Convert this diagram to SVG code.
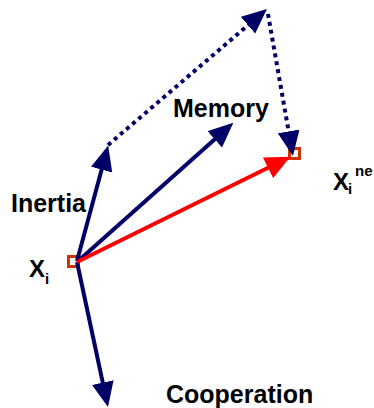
<svg xmlns="http://www.w3.org/2000/svg" width="374" height="408" viewBox="0 0 374 408">
<style>
text{font-family:"Liberation Sans",Arial,sans-serif;font-weight:bold;fill:#000}
.lbl{font-size:25px}
.var{font-size:24px}
.sub{font-size:15px}
.blue{stroke:#000066;stroke-width:4;fill:none}
.red{stroke:#FF0000;stroke-width:4;fill:none}
.dot{stroke-dasharray:4 4}
.sq{fill:#fff;stroke:#CC3300;stroke-width:3}
</style>
<defs>
<marker id="hb" markerUnits="userSpaceOnUse" markerWidth="25" markerHeight="22" viewBox="0 -11 25 22" refX="12.5" refY="0" orient="auto">
<path d="M0,-11 L25,0 L0,11 z" fill="#000066"/>
</marker>
<marker id="hr" markerUnits="userSpaceOnUse" markerWidth="25" markerHeight="23" viewBox="0 -11.5 25 23" refX="12.5" refY="0" orient="auto">
<path d="M0,-11.5 L25,0 L0,11.5 z" fill="#FF0000"/>
</marker>
</defs>
<g id="node-xi">
<rect class="sq" x="68.5" y="256.5" width="10" height="10"/>
<text class="var" x="29" y="277">X</text>
<text class="sub" x="45" y="284">i</text>
</g>
<g id="node-xine">
<rect class="sq" x="289.5" y="148.5" width="10" height="10"/>
<text class="var" x="333" y="190">X</text>
<text class="sub" x="348" y="194">i</text>
<text class="sub" x="355" y="176">ne</text>
</g>
<g id="label-memory"><text class="lbl" x="173" y="117">Memory</text></g>
<g id="label-inertia"><text class="lbl" x="11" y="212">Inertia</text></g>
<g id="label-cooperation"><text class="lbl" x="166" y="403">Cooperation</text></g>
<g id="connectors">
<line class="blue" x1="77" y1="261" x2="104.9" y2="157.6" marker-end="url(#hb)"/>
<line class="blue" x1="77" y1="262" x2="224" y2="131" marker-end="url(#hb)"/>
<line class="blue" x1="77" y1="262" x2="105.4" y2="394.8" marker-end="url(#hb)"/>
<line class="red" x1="77" y1="262" x2="279.2" y2="162.3" marker-end="url(#hr)"/>
<line class="blue dot" x1="108" y1="145" x2="257.5" y2="17.1" marker-end="url(#hb)"/>
<line class="blue dot" x1="268" y1="14" x2="290.8" y2="143.7" marker-end="url(#hb)"/>
</g>
</svg>
